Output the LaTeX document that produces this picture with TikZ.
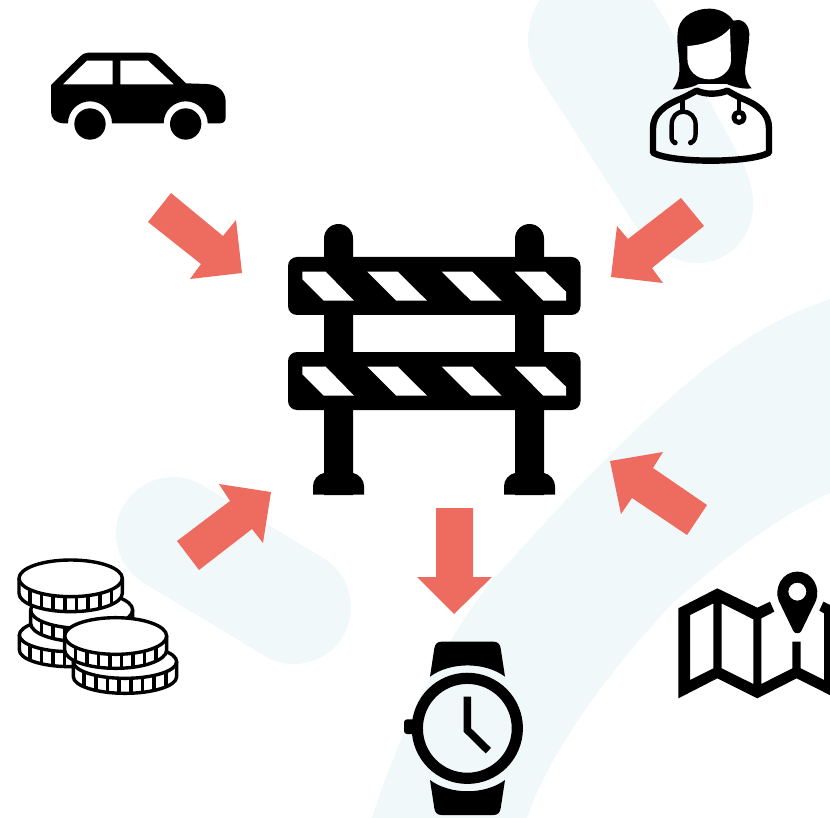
\documentclass[tikz,border=0pt]{standalone}
\definecolor{pale}{HTML}{F1F8FA}
\definecolor{coral}{HTML}{EE6C5F}
\tikzset{
  bgband/.style={draw=pale,line cap=round},
  blockarrow/.style={fill=coral},
  ink/.style={fill=black},
  hole/.style={fill=white},
  inkline/.style={draw=black,line join=round},
  coinline/.style={draw=black,line width=3.4pt,line join=round},
  zoomed/.style={scale=1/3}
}
% cx cy rx ry h
\newcommand{\coinstack}[5]{%
  \fill[white] (#1-#3,#2) -- (#1-#3,#2+#5) arc[start angle=180,end angle=0,x radius=#3,y radius=#4] -- (#1+#3,#2) arc[start angle=0,end angle=-180,x radius=#3,y radius=#4] -- cycle;
  \foreach \ribangle in {37.8,55.6,70.2,83.5,96.5,109.8,124.4,142.2}{
    \draw[coinline] ({#1+#3*cos(\ribangle)},{#2+#4*sin(\ribangle)}) -- ({#1+#3*cos(\ribangle)},{#2+#5+#4*sin(\ribangle)});
  }
  \draw[coinline] (#1-#3,#2) -- (#1-#3,#2+#5) arc[start angle=180,end angle=0,x radius=#3,y radius=#4] -- (#1+#3,#2);
  \draw[coinline] (#1,#2) ellipse[x radius=#3,y radius=#4];
}
\begin{document}
\begin{tikzpicture}[x=1pt,y=-1pt]
\useasboundingbox (0,0) rectangle (830,818);
\fill[white] (0,0) rectangle (830,818);
\begin{scope}
\clip (0,0) rectangle (830,818);
% background bands
\fill[pale] (540,0) .. controls (528,15) and (522,50) .. (537,73) -- (630,217)
  .. controls (650,250) and (675,263) .. (697,263) .. controls (730,263) and (755,235) .. (753,200)
  .. controls (752,185) and (748,175) .. (743,163) -- (667,23) -- (653,0) -- cycle;
\draw[bgband,line width=114pt] (173,534) -- (294,607);
\fill[pale] (830,299) .. controls (755,325) and (700,365) .. (603,462)
  .. controls (560,505) and (525,545) .. (490,583)
  .. controls (445,640) and (400,730) .. (372,818)
  -- (527,818) .. controls (550,750) and (610,670) .. (670,606)
  .. controls (720,560) and (780,515) .. (830,493) -- cycle;
\end{scope}
% block arrows
\fill[blockarrow] (171,193) -- (223,236) -- (236,220) -- (242,273) -- (190,279) -- (201,264) -- (148,222) -- cycle;
\fill[blockarrow] (681,198) -- (704,226) -- (652,268) -- (663,283) -- (611,277) -- (617,226) -- (628,239) -- cycle;
\fill[blockarrow] (610,461) -- (663,452) -- (653,468) -- (707,505) -- (687,535) -- (632,498) -- (621,514) -- cycle;
\fill[blockarrow] (436,508) -- (473,508) -- (473,577) -- (492,577) -- (454,614) -- (417,577) -- (436,577) -- cycle;
\fill[blockarrow] (177,541) -- (199,570) -- (252,529) -- (263,543) -- (271,492) -- (219,484) -- (230,501) -- cycle;
% barrier
\begin{scope}
\foreach \px in {324,515}{
  \fill[ink] (\px,495) -- (\px,238.5) arc[start angle=180,end angle=360,radius=14.5] -- (\px+29,495) -- cycle;
  \fill[ink] (\px-11,494.5) -- (\px-11,486) .. controls (\px-11,480) and (\px-6,474) .. (\px,473) -- (\px+29,473) .. controls (\px+35,474) and (\px+40,480) .. (\px+40,486) -- (\px+40,494.5) -- cycle;
}
\foreach \dy in {0,95}{
  \fill[ink,rounded corners=9pt] (288,257+\dy) rectangle (580.5,315+\dy);
  \fill[hole] (302.3,271.7+\dy) -- (325.7,271.7+\dy) -- (354,300.7+\dy) -- (323.7,300.7+\dy) -- (302.3,279.3+\dy) -- cycle;
  \fill[hole] (367.3,271.7+\dy) -- (397.7,271.7+\dy) -- (427,300.7+\dy) -- (396.3,300.7+\dy) -- cycle;
  \fill[hole] (441.7,271.7+\dy) -- (472.3,271.7+\dy) -- (501.7,300.7+\dy) -- (471,300.7+\dy) -- cycle;
  \fill[hole] (514.7,271.7+\dy) -- (545.3,271.7+\dy) -- (566,291.7+\dy) -- (566,300.7+\dy) -- (543.3,300.7+\dy) -- cycle;
}
\end{scope}
% car
\begin{scope}[shift={(40,40)},zoomed]
\fill[ink,even odd rule] (33,135) -- (120,50) .. controls (128,42) and (135,38) .. (145,38) -- (325,38) .. controls (340,38) and (350,44) .. (358,52) -- (438,130) -- (500,132) .. controls (535,134) and (557,155) .. (557,185) -- (557,232) .. controls (557,244) and (550,250) .. (540,250) -- (503,250) arc[start angle=0,end angle=-180,radius=66] -- (216,250) arc[start angle=0,end angle=-180,radius=66] -- (70,250) .. controls (45,248) and (33,235) .. (33,215) -- cycle
 (68,133) -- (140,62) -- (218,62) -- (218,133) -- cycle
 (241,62) -- (325,62) -- (402,133) -- (241,133) -- cycle;
\fill[ink] (150,252) circle[radius=47];
\fill[ink] (437,252) circle[radius=47];
\end{scope}
% doctor
\begin{scope}[shift={(630,0)},zoomed]
\draw[inkline,line width=6.4pt] (69,458) -- (69,385) .. controls (69,340) and (105,315) .. (155,295) .. controls (170,288) and (185,280) .. (200,272) .. controls (225,284) and (265,284) .. (292,272) .. controls (305,280) and (320,288) .. (335,295) .. controls (385,315) and (417,340) .. (417,385) -- (417,458) .. controls (360,490) and (125,490) .. (69,458) -- cycle;
\fill[ink] (128,268) .. controls (145,245) and (150,225) .. (148,190)
 .. controls (145,150) and (138,120) .. (145,85)
 .. controls (155,45) and (200,25) .. (240,26)
 .. controls (270,27) and (295,40) .. (310,62)
 .. controls (330,55) and (355,65) .. (358,100)
 .. controls (358,140) and (345,190) .. (345,215)
 .. controls (347,240) and (355,255) .. (365,265)
 .. controls (340,268) and (315,262) .. (290,252)
 -- (205,252) .. controls (190,262) and (150,270) .. (128,268) -- cycle;
\fill[hole] (172,138) .. controls (225,135) and (275,115) .. (300,85) -- (303,180) .. controls (303,215) and (270,238) .. (238,238) .. controls (200,238) and (172,212) .. (172,175) -- cycle;
\draw[inkline,line width=4.4pt,line cap=round] (135,428) .. controls (122,425) and (125,410) .. (125,395) -- (125,375) .. controls (125,350) and (140,335) .. (160,335) .. controls (180,335) and (197,350) .. (197,375) -- (197,395) .. controls (197,410) and (195,425) .. (182,428);
\fill[ink] (135,428) circle[radius=8];
\fill[ink] (182,428) circle[radius=8];
\draw[inkline,line width=4.4pt] (157,295) -- (157,335);
\draw[inkline,line width=4.4pt] (327,295) -- (327,335);
\draw[inkline,line width=5pt] (327,352) circle[radius=15.5];
\end{scope}
% map
\begin{scope}[shift={(670,560)},zoomed]
\clip (0,0) rectangle (480,440);
\fill[ink,even odd rule] (25,145) -- (142,85) -- (262,143) -- (300,125) -- (313,155) -- (274,175) -- (274,372) -- (367,325) -- (367,245) -- (392,245) -- (392,325) -- (462,360) -- (462,160) -- (448,152) -- (460,125) -- (485,137) -- (485,408) -- (380,355) -- (262,415) -- (142,355) -- (25,415) -- cycle
 (60,165) -- (130,130) -- (130,325) -- (60,360) -- cycle
 (155,130) -- (250,178) -- (250,372) -- (155,325) -- cycle;
\fill[ink,even odd rule] (326,122) .. controls (312,85) and (335,35) .. (382,35) .. controls (429,35) and (452,85) .. (438,122) -- (394,213) .. controls (390,222) and (374,222) .. (370,213) -- cycle
 (382,95) circle[radius=27];
\end{scope}
% watch
\begin{scope}[shift={(390,630)},zoomed]
\fill[ink] (120,140) -- (133,55) .. controls (135,42) and (142,35) .. (155,35) -- (310,35) .. controls (323,35) and (330,42) .. (332,55) -- (345,140) .. controls (285,95) and (180,95) .. (120,140) -- cycle;
\fill[ink] (120,450) .. controls (180,495) and (285,495) .. (345,450) -- (332,535) .. controls (330,548) and (323,555) .. (310,555) -- (155,555) .. controls (142,555) and (135,548) .. (133,535) -- cycle;
\draw[inkline,line width=11.2pt] (232,295) circle[radius=150];
\fill[ink,rounded corners=3pt] (42,268) rectangle (85,312);
\draw[black,line width=7.6pt,line join=miter] (232,200) -- (232,300) -- (295,362);
\end{scope}
% coins
\begin{scope}[shift={(0,530)},zoomed]
\coinstack{210}{315}{152}{50}{45}
\coinstack{245}{240}{153}{55}{40}
\coinstack{212}{145}{155}{55}{45}
\coinstack{375}{395}{155}{50}{45}
\coinstack{347}{318}{153}{55}{42}
\end{scope}
\end{tikzpicture}
\end{document}
